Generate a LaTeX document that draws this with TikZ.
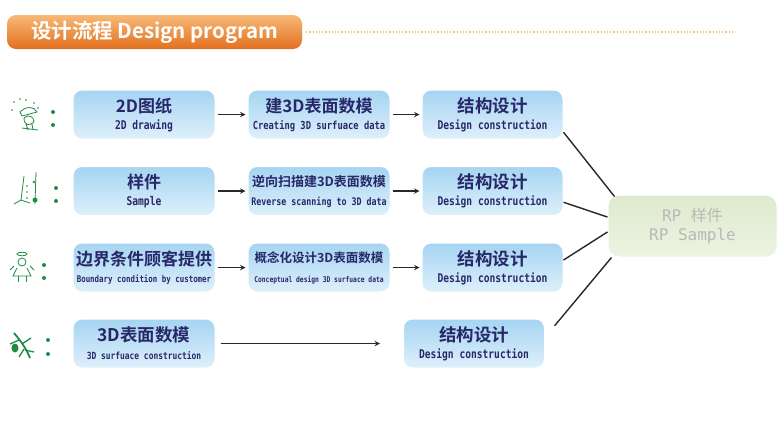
\documentclass[tikz,border=0pt]{standalone}
\usepackage{fontspec}
\usepackage{tikz}
\usetikzlibrary{calc}
\newfontfamily\cjk{Noto Sans CJK SC}
\newfontfamily\cjkb{Noto Sans CJK SC Bold}
\newfontfamily\eng{DejaVu Sans Mono Bold}[FakeStretch=0.8]
\newfontfamily\engw{DejaVu Sans Mono}
\definecolor{StageBlueTop}{RGB}{165,212,242}
\definecolor{StageBlueBot}{RGB}{222,240,251}
\definecolor{RPGreenTop}{RGB}{222,234,205}
\definecolor{RPGreenBot}{RGB}{236,243,226}
\definecolor{TitleOrangeTop}{RGB}{247,185,120}
\definecolor{TitleOrangeBot}{RGB}{226,112,30}
\definecolor{StageText}{RGB}{40,40,105}
\definecolor{IconGreen}{RGB}{30,140,65}
\definecolor{LinkGray}{RGB}{40,40,40}
\tikzstyle{stage} = [rounded corners=9pt, top color=StageBlueTop, bottom color=StageBlueBot, draw=white, line width=1pt, minimum width=142pt, minimum height=49pt, align=center, text=StageText, inner sep=0pt]
\tikzstyle{link} = [draw=LinkGray, line width=1.4pt]
\tikzstyle{dot} = [circle, minimum width=4pt, fill=IconGreen, inner sep=0pt]
\newcommand{\cn}[2][17.5pt]{{\cjkb\fontsize{#1}{#1}\selectfont #2}}
\newcommand{\en}[2][12pt]{{\eng\fontsize{#1}{#1}\selectfont #2}}

\begin{document}
\begin{tikzpicture}[x=1pt,y=-1pt]
  \useasboundingbox (0,0) rectangle (782,421);
  \fill[white] (0,0) rectangle (782,421);

  % title bar
  \node[rounded corners=9pt, top color=TitleOrangeTop, bottom color=TitleOrangeBot, minimum width=295pt, minimum height=34pt, inner sep=0pt, text=white] (title) at (154.5,32) {\cjkb\fontsize{20.5pt}{20.5pt}\selectfont 设计流程 Design program};
  \draw[TitleOrangeTop, line width=1.2pt, dotted] ([xshift=4pt]title.east) -- (735,32);

  % stages
  \node[stage] (a1) at (144,114.5) {\cn[17pt]{2D图纸}\\[5pt]\en{2D drawing}};
  \node[stage] (b1) at (319,114.5) {\cn[17pt]{建3D表面数模}\\[5pt]\en[11pt]{Creating 3D surfuace data}};
  \node[stage, minimum width=141pt] (c1) at (492.5,114.5) {\cn{结构设计}\\[5pt]\en{Design construction}};

  \node[stage] (a2) at (144,191) {\cn[17pt]{样件}\\[5pt]\en{Sample}};
  \node[stage] (b2) at (319,191) {\cn[13pt]{逆向扫描建3D表面数模}\\[7pt]\en[10.4pt]{Reverse scanning to 3D data}};
  \node[stage, minimum width=141pt] (c2) at (492.5,191) {\cn{结构设计}\\[5pt]\en{Design construction}};

  \node[stage] (a3) at (144,267.5) {\cn[17pt]{边界条件顾客提供}\\[5pt]\en[9.3pt]{Boundary condition by customer}};
  \node[stage] (b3) at (319,267.5) {\cn[12.5pt]{概念化设计3D表面数模}\\[8pt]\en[7.9pt]{Conceptual design 3D surfuace data}};
  \node[stage, minimum width=141pt] (c3) at (492.5,267.5) {\cn{结构设计}\\[5pt]\en{Design construction}};

  \node[stage] (a4) at (144,343.5) {\cn{3D表面数模}\\[6pt]\en[9.9pt]{3D surfuace construction}};
  \node[stage, minimum width=141pt] (c4) at (474,343.5) {\cn{结构设计}\\[5pt]\en{Design construction}};

  \node[rounded corners=11pt, top color=RPGreenTop, bottom color=RPGreenBot, draw=white, line width=1pt, minimum width=169pt, minimum height=62pt, align=center, text=gray!55, inner sep=0pt] (rp) at (692.5,226) {{\engw\fontsize{16pt}{16pt}\selectfont RP }{\cjk\fontsize{16pt}{16pt}\selectfont 样件}\\[4pt]{\engw\fontsize{16pt}{16pt}\selectfont RP Sample}};

  % arrows
  \foreach \row in {1,2,3} {
    \draw[link, -stealth, shorten <=2pt, shorten >=2pt] (a\row) -- (b\row);
    \draw[link, -stealth, shorten <=2pt, shorten >=2pt] (b\row) -- (c\row);
  }
  \draw[link, -stealth, shorten <=5pt, shorten >=23pt] (a4) -- (c4);

  % joins to the RP sample
  \draw[link] (c1.-14) -- ([xshift=7pt,yshift=-2pt]rp.north west);
  \draw[link] (c2.-9) -- (rp.174);
  \draw[link] (c3.6) -- (rp.184);
  \draw[link, shorten <=15pt] (c4.5) -- ([xshift=4pt]rp.south west);

  % colons
  \foreach \x/\ya/\yb in {53/112/125, 56/188/201, 44/265/278, 48/340/354} {
    \node[dot] at (\x,\ya) {};
    \node[dot] at (\x,\yb) {};
  }

  % icons
  \begin{scope}[IconGreen, line width=0.8pt]
    % row 1
    \foreach \point in {(14,102),(20,99),(26,100),(34,103),(38,108),(12,110)} {
      \fill \point circle[radius=0.8pt];
    }
    \draw (20,112) .. controls (26,106) and (34,106) .. (37,112) -- (22,116) -- cycle;
    \draw (24,118) .. controls (28,114) and (34,116) .. (34,122) .. controls (30,126) and (24,126) .. (24,118);
    \draw (22,128) -- (38,130) (26,124) -- (28,130) (32,124) -- (33,130);
    % row 2
    \draw (24,176) -- (21,200) -- (14,204) (21,200) -- (30,203);
    \draw (36,172) -- (35,204);
    \fill (35,200) circle[radius=2.5pt];
    \fill (34,182) circle[radius=1.3pt];
    \foreach \y in {186,192,198} {
      \fill (27,\y) circle[radius=0.8pt];
    }
    % row 3
    \draw (22,254) ellipse[x radius=5pt, y radius=1.8pt];
    \draw (22,262) circle[radius=4pt];
    \draw (17,268) -- (13,276) -- (31,276) -- (27,268);
    \draw (14,266) -- (10,270) (30,266) -- (34,270);
    \draw (18,276) -- (18,282) (26,276) -- (26,282);
    % row 4
    \draw[line width=1.8pt] (14,333) .. controls (20,340) and (26,348) .. (30,358);
    \draw[line width=1.3pt] (19,340) -- (10,344) (22,344) -- (31,338) (25,350) -- (34,352) (24,349) -- (19,357);
    \fill (15,348) ellipse[x radius=3.5pt, y radius=4.5pt];
  \end{scope}
\end{tikzpicture}
\end{document}
